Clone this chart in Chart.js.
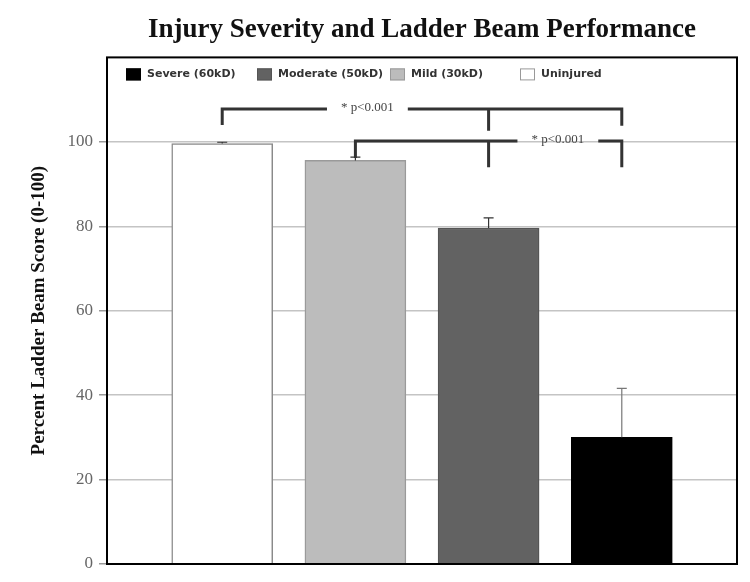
<!DOCTYPE html>
<html>
<head>
<meta charset="utf-8">
<script src="https://cdn.jsdelivr.net/npm/chart.js@4.4.0/dist/chart.umd.min.js"></script>
<style>
  html, body { margin: 0; padding: 0; background: #fff; }
  #wrap { width: 750px; height: 582px; }
</style>
</head>
<body>
<div id="wrap"><canvas id="chart"></canvas></div>
<script>
const categories = ["Uninjured", "Mild (30kD)", "Moderate (50kD)", "Severe (60kD)"];
const scores = [99.6, 95.6, 79.6, 30.0];
const errors = [0.3, 0.8, 2.4, 11.6];
const barColors = ["#ffffff", "#bcbcbc", "#626262", "#000000"];
const borderColors = ["#8a8a8a", "#9a9a9a", "#555555", "#000000"];
const yTicks = [0, 20, 40, 60, 80, 100];
//significance brackets (values in score units)
const brackets = [
  { groups: [0, 2, 3], top: 107.8, ends: [104, 102.6, 103.8], label: "* p<0.001", labelAt: 1.09 },
  { groups: [1, 2, 3], top: 100.2, ends: [96.2, 94, 94], label: "* p<0.001", labelAt: 2.52 },
];

//legend is drawn inside the frame, in reverse order
const legendOffsets = [19, 150, 283, 413];

const extras = {
  id: "extras",
  afterDatasetsDraw(chart) {
    const ctx = chart.ctx, x = chart.scales.x, y = chart.scales.y, a = chart.chartArea;
    ctx.save();
    //error bars (upper only)
    scores.forEach((v, i) => {
      const px = x.getPixelForValue(i);
      const y0 = y.getPixelForValue(v), y1 = y.getPixelForValue(v + errors[i]);
      ctx.strokeStyle = i == 3 ? "#777" : "#333";
      ctx.lineWidth = 1.2;
      ctx.beginPath();
      ctx.moveTo(px, y0); ctx.lineTo(px, y1);
      ctx.moveTo(px - 5, y1); ctx.lineTo(px + 5, y1);
      ctx.stroke();
    });
    //brackets
    ctx.font = "13px 'Liberation Serif'";
    ctx.textAlign = "center";
    ctx.textBaseline = "middle";
    brackets.forEach(b => {
      const yt = y.getPixelForValue(b.top);
      const xs = b.groups.map(g => x.getPixelForValue(g));
      const lx = x.getPixelForValue(b.labelAt);
      const half = ctx.measureText(b.label).width / 2 + 14;
      ctx.strokeStyle = "#333";
      ctx.lineWidth = 3;
      ctx.beginPath();
      ctx.moveTo(xs[0], yt); ctx.lineTo(lx - half, yt);
      ctx.moveTo(lx + half, yt); ctx.lineTo(xs[xs.length - 1] + 1.5, yt);
      xs.forEach((px, k) => {
        ctx.moveTo(px, yt - 1.5); ctx.lineTo(px, y.getPixelForValue(b.ends[k]));
      });
      ctx.stroke();
      ctx.fillStyle = "#444";
      ctx.fillText(b.label, lx, yt - 1);
    });
    //legend
    ctx.font = "bold 11px 'DejaVu Sans'";
    ctx.textAlign = "left";
    const order = [3, 2, 1, 0];
    order.forEach((i, k) => {
      const bx = a.left + legendOffsets[k], by = a.top + 11;
      ctx.fillStyle = barColors[i];
      ctx.fillRect(bx, by, 15, 12);
      ctx.strokeStyle = i == 0 ? "#999" : borderColors[i];
      ctx.lineWidth = 1;
      ctx.strokeRect(bx + 0.5, by + 0.5, 14, 11);
      ctx.fillStyle = "#333";
      ctx.fillText(categories[i], bx + 21, by + 6);
    });
    ctx.restore();
  },
  afterDraw(chart) {
    const ctx = chart.ctx, a = chart.chartArea;
    ctx.save();
    ctx.strokeStyle = "#000";
    ctx.lineWidth = 2;
    ctx.strokeRect(a.left, a.top, a.right - a.left, a.bottom - a.top);
    ctx.restore();
  }
};

new Chart(document.getElementById("chart"), {
  type: "bar",
  data: {
    datasets: [{
      data: scores.map((v, i) => ({ x: i, y: v })),
      backgroundColor: barColors,
      borderColor: borderColors,
      borderWidth: 1.5,
      barThickness: 101,
    }],
  },
  options: {
    responsive: true,
    maintainAspectRatio: false,
    animation: false,
    layout: { padding: { right: 13, bottom: 18 } },
    plugins: {
      legend: { display: false },
      tooltip: { enabled: false },
      title: {
        display: true,
        text: "Injury Severity and Ladder Beam Performance",
        fullSize: false,
        color: "#111",
        font: { family: "Liberation Serif", size: 27, weight: "bold" },
        padding: { top: 14, bottom: 11 },
      },
    },
    scales: {
      x: {
        type: "linear",
        min: -0.865,
        max: 3.865,
        offset: false,
        ticks: { display: false },
        grid: { display: false },
        border: { display: false },
        afterFit: (s) => { s.height = 0; },
      },
      y: {
        min: 0,
        max: 120,
        ticks: {
          stepSize: 20,
          callback: (v) => (yTicks.includes(v) ? v : ""),
          color: "#666",
          padding: 6,
          font: { family: "Liberation Serif", size: 17 },
        },
        grid: {
          color: (c) => (c.tick.value == 120 ? "rgba(0,0,0,0)" : "#c4c4c4"),
          tickColor: (c) => (c.tick.value == 120 ? "rgba(0,0,0,0)" : "#999"),
          lineWidth: 1.5,
          tickLength: 8,
        },
        border: { display: false },
        title: {
          display: true,
          text: "Percent Ladder Beam Score (0-100)",
          color: "#111",
          font: { family: "Liberation Serif", size: 19, weight: "bold" },
          padding: { top: 28, bottom: 0 },
        },
        afterFit: (s) => { s.width = 107; },
      },
    },
  },
  plugins: [extras],
});
</script>
</body>
</html>
